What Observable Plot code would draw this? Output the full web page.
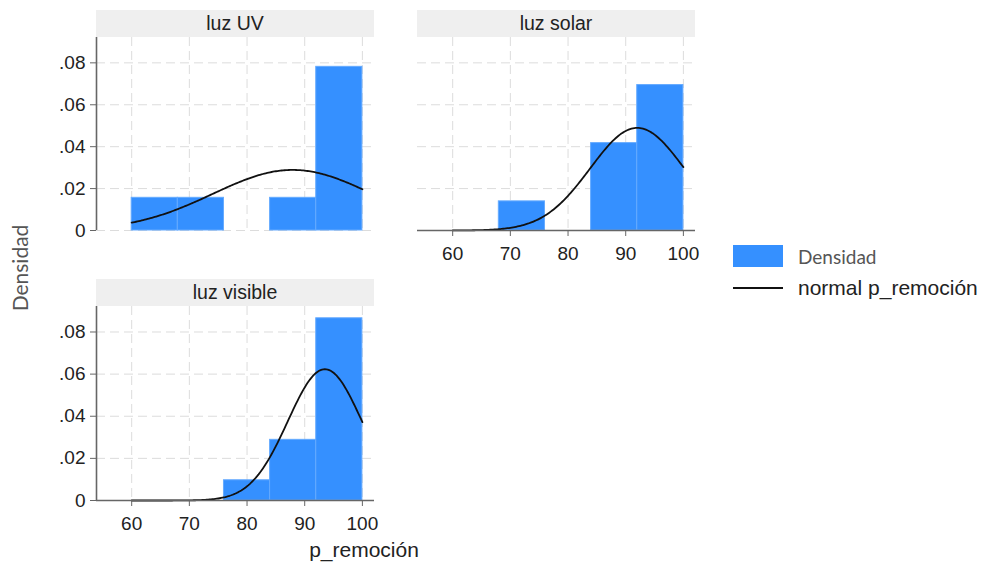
<!DOCTYPE html>
<html>
<head>
<meta charset="utf-8">
<script src="https://cdn.jsdelivr.net/npm/d3@7"></script>
<script src="https://cdn.jsdelivr.net/npm/@observablehq/plot@0.6"></script>
<style>
  html, body { margin: 0; padding: 0; background: #fff; }
  #fig { position: relative; width: 988px; height: 566px; overflow: hidden; font-family: "Liberation Sans", Arial, sans-serif; }
  .abs { position: absolute; }
  .header { background: #efefef; color: #222; font-size: 19.5px; text-align: center; line-height: 27px; height: 27px; }
  .thin { font-family: Lato, "Open Sans", sans-serif; color: #555; }
</style>
</head>
<body>
<div id="fig"></div>
<script>
// Groups (light treatment) and histogram bins of p_remoción (bin width 8, starting at 60)
const groups = ["luz UV", "luz solar", "luz visible"];
const binStarts = [60, 68, 76, 84, 92];
const binWidth = 8;
// Density of each bin, per group
const densUV      = [0.0156, 0.0156, 0, 0.0156, 0.0781];
const densSolar   = [0, 0.0139, 0, 0.0417, 0.0694];
const densVisible = [0, 0, 0.0096, 0.0288, 0.0865];
// Fitted normal overlay: mean and standard deviation per group
const normMean = [87.9, 92.0, 93.5];
const normSd   = [13.8, 8.15, 6.4];
// Axis ticks
const xTicks = [60, 70, 80, 90, 100];
const yTicks = [0, 0.02, 0.04, 0.06, 0.08];
const xDomain = [53.9, 102.1];
const yDomain = [0, 0.0921];

const blue = "#3590ff";
const fig = document.getElementById("fig");

function normalPdf(x, m, s) {
  return Math.exp(-0.5 * ((x - m) / s) ** 2) / (s * Math.sqrt(2 * Math.PI));
}

const yFmt = d => d === 0 ? "0" : d3.format(".2f")(d).replace(/^0/, "");

// One histogram panel: plot area placed at (left, top) with size w x h
function panel(i, dens, opts) {
  const {left, top, w, h, showX, showY} = opts;
  const mL = 60, mR = 16, mT = 2, mB = showX ? 40 : 4;
  const bars = binStarts.map((s, k) => ({x1: s, x2: s + binWidth, y: dens[k]})).filter(d => d.y > 0);
  const curve = d3.range(60, 100.001, 0.25).map(x => ({x, y: normalPdf(x, normMean[i], normSd[i])}));
  const marks = [
    Plot.gridX(xTicks, {stroke: "#dcdcdc", strokeOpacity: 1, strokeDasharray: "9,5"}),
    Plot.gridY(yTicks, {stroke: "#dcdcdc", strokeOpacity: 1, strokeDasharray: "9,5"}),
    Plot.rectY(bars, {x1: "x1", x2: "x2", y1: 0, y2: "y", fill: blue, stroke: "#64aaff", strokeWidth: 1, insetLeft: 0, insetRight: 0}),
    Plot.line(curve, {x: "x", y: "y", stroke: "#111", strokeWidth: 1.8, curve: "linear"})
  ];
  if (showY) {
    marks.push(Plot.ruleX([xDomain[0]], {stroke: "#666", strokeWidth: 1.6}));
    marks.push(Plot.axisY(yTicks, {tickFormat: yFmt, tickSize: 6, tickPadding: 5, stroke: "#666", fill: "#222", label: null, fontSize: 19}));
  }
  if (showX) {
    marks.push(Plot.ruleY([0], {stroke: "#666", strokeWidth: 1.6}));
    marks.push(Plot.axisX(xTicks, {tickSize: 6, tickPadding: 10, stroke: "#666", fill: "#222", label: null, fontSize: 19}));
  }
  const p = Plot.plot({
    width: mL + w + mR,
    height: mT + h + mB,
    marginLeft: mL, marginRight: mR, marginTop: mT, marginBottom: mB,
    x: {domain: xDomain, axis: null},
    y: {domain: yDomain, axis: null},
    style: {fontFamily: "'Liberation Sans', Arial, sans-serif", fontSize: "19px", color: "#222", background: "transparent", overflow: "visible"},
    marks
  });
  p.classList.add("abs");
  p.style.left = (left - mL) + "px";
  p.style.top = (top - mT) + "px";
  fig.appendChild(p);

  const hd = document.createElement("div");
  hd.className = "abs header";
  hd.style.left = left + "px";
  hd.style.top = (top - 27) + "px";
  hd.style.width = w + "px";
  hd.textContent = groups[i];
  fig.appendChild(hd);
}

panel(0, densUV,      {left: 96,  top: 37,  w: 278, h: 193, showX: false, showY: true});
panel(1, densSolar,   {left: 417, top: 37,  w: 278, h: 193, showX: true,  showY: false});
panel(2, densVisible, {left: 96,  top: 306, w: 278, h: 194, showX: true,  showY: true});

// Axis titles
const yt = document.createElement("div");
yt.className = "abs thin";
yt.style.cssText += "left:19px;top:268px;font-size:21px;white-space:nowrap;transform:translate(-50%,-50%) rotate(-90deg);";
yt.textContent = "Densidad";
fig.appendChild(yt);

const xt = document.createElement("div");
xt.className = "abs";
xt.style.cssText += "left:364px;top:550px;font-size:21px;color:#222;white-space:nowrap;transform:translate(-50%,-50%);";
xt.textContent = "p_remoción";
fig.appendChild(xt);

// Legend
const lg = [
  {key: "Densidad", kind: "rect", y: 256},
  {key: "normal p_remoción", kind: "line", y: 288}
];
for (const item of lg) {
  const sw = document.createElement("div");
  sw.className = "abs";
  if (item.kind === "rect") {
    sw.style.cssText += `left:733px;top:${item.y - 11}px;width:50px;height:22px;background:${blue};`;
  } else {
    sw.style.cssText += `left:733px;top:${item.y - 1}px;width:50px;height:2px;background:#111;`;
  }
  fig.appendChild(sw);
  const tx = document.createElement("div");
  tx.className = item.kind === "rect" ? "abs thin" : "abs";
  tx.style.cssText += `left:798px;top:${item.y}px;white-space:nowrap;transform:translateY(-50%);font-size:${item.kind === "rect" ? 19 : 21}px;` + (item.kind === "rect" ? "" : "color:#222;");
  tx.textContent = item.key;
  fig.appendChild(tx);
}
</script>
</body>
</html>
